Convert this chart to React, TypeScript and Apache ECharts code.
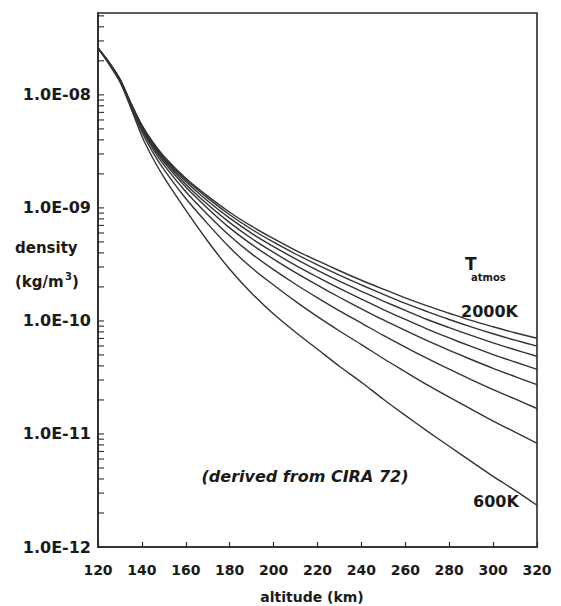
import React, { useEffect, useRef } from "react";
import * as echarts from "echarts";

// Altitude (km) sample positions
const altitudes = [120, 125, 130, 135, 140, 145, 150, 160, 170, 180, 190, 200, 210, 220, 230, 240, 250, 260, 270, 280, 290, 300, 310, 320];

// Density (kg/m^3) per exospheric temperature
const density2000K = [2.59e-8, 1.95e-8, 1.38e-8, 8.44e-9, 5.39e-9, 3.81e-9, 2.87e-9, 1.83e-9, 1.27e-9, 9.16e-10, 6.89e-10, 5.34e-10, 4.22e-10, 3.41e-10, 2.78e-10, 2.29e-10, 1.91e-10, 1.6e-10, 1.36e-10, 1.17e-10, 1.01e-10, 8.88e-11, 7.86e-11, 7.03e-11];
const density1800K = [2.59e-8, 1.94e-8, 1.37e-8, 8.41e-9, 5.34e-9, 3.75e-9, 2.81e-9, 1.78e-9, 1.22e-9, 8.69e-10, 6.47e-10, 4.97e-10, 3.91e-10, 3.13e-10, 2.54e-10, 2.08e-10, 1.72e-10, 1.43e-10, 1.21e-10, 1.03e-10, 8.86e-11, 7.7e-11, 6.76e-11, 5.99e-11];
const density1600K = [2.59e-8, 1.94e-8, 1.37e-8, 8.36e-9, 5.26e-9, 3.68e-9, 2.74e-9, 1.71e-9, 1.15e-9, 8.11e-10, 5.96e-10, 4.54e-10, 3.54e-10, 2.8e-10, 2.25e-10, 1.83e-10, 1.5e-10, 1.24e-10, 1.03e-10, 8.72e-11, 7.44e-11, 6.4e-11, 5.56e-11, 4.87e-11];
const density1400K = [2.59e-8, 1.93e-8, 1.36e-8, 8.29e-9, 5.18e-9, 3.59e-9, 2.65e-9, 1.62e-9, 1.07e-9, 7.41e-10, 5.36e-10, 4.04e-10, 3.1e-10, 2.44e-10, 1.94e-10, 1.56e-10, 1.26e-10, 1.03e-10, 8.48e-11, 7.07e-11, 5.95e-11, 5.04e-11, 4.33e-11, 3.73e-11];
const density1200K = [2.59e-8, 1.92e-8, 1.35e-8, 8.21e-9, 5.06e-9, 3.49e-9, 2.55e-9, 1.53e-9, 9.9e-10, 6.66e-10, 4.75e-10, 3.52e-10, 2.67e-10, 2.07e-10, 1.62e-10, 1.28e-10, 1.02e-10, 8.24e-11, 6.69e-11, 5.5e-11, 4.56e-11, 3.81e-11, 3.22e-11, 2.73e-11];
const density1000K = [2.59e-8, 1.92e-8, 1.34e-8, 8.09e-9, 4.91e-9, 3.33e-9, 2.4e-9, 1.39e-9, 8.71e-10, 5.67e-10, 3.92e-10, 2.84e-10, 2.11e-10, 1.6e-10, 1.23e-10, 9.58e-11, 7.44e-11, 5.86e-11, 4.66e-11, 3.74e-11, 3.03e-11, 2.47e-11, 2.04e-11, 1.68e-11];
const density800K = [2.59e-8, 1.9e-8, 1.32e-8, 7.91e-9, 4.69e-9, 3.1e-9, 2.19e-9, 1.21e-9, 7.22e-10, 4.46e-10, 2.95e-10, 2.08e-10, 1.49e-10, 1.09e-10, 8.15e-11, 6.18e-11, 4.65e-11, 3.55e-11, 2.72e-11, 2.12e-11, 1.66e-11, 1.3e-11, 1.04e-11, 8.24e-12];
const density600K = [2.59e-8, 1.87e-8, 1.3e-8, 7.62e-9, 4.31e-9, 2.75e-9, 1.87e-9, 9.54e-10, 5.07e-10, 2.87e-10, 1.76e-10, 1.15e-10, 7.94e-11, 5.62e-11, 3.97e-11, 2.87e-11, 2.03e-11, 1.46e-11, 1.06e-11, 7.78e-12, 5.73e-12, 4.22e-12, 3.17e-12, 2.34e-12];

const seriesNames = ["2000K", "1800K", "1600K", "1400K", "1200K", "1000K", "800K", "600K"];
const seriesValues = [density2000K, density1800K, density1600K, density1400K, density1200K, density1000K, density800K, density600K];

// Axis ticks
const xTicks = [120, 140, 160, 180, 200, 220, 240, 260, 280, 300, 320];
const yDecades = [1e-12, 1e-11, 1e-10, 1e-9, 1e-8];
const yMinorMultipliers = [2, 3, 4, 5, 6, 7, 8, 9];
const yMin = 1e-12;
const yMax = 5.3e-8;

const FONT = '"DejaVu Sans", Verdana, sans-serif';
const INK = "#2a2a2a";

export default function App() {
  const ref = useRef<HTMLDivElement>(null);

  useEffect(() => {
    if (!ref.current) return;
    const chart = echarts.init(ref.current, null, { renderer: "svg" });

    const tickValues: number[] = [];
    yDecades.forEach((d) => {
      tickValues.push(d);
      yMinorMultipliers.forEach((m) => {
        const v = d * m;
        if (v < yMax * 0.97) tickValues.push(v);
      });
    });

    const lineSeries = seriesValues.map((vals, i) => ({
      type: "line",
      name: seriesNames[i],
      data: altitudes.map((a, j) => [a, vals[j]]),
      showSymbol: false,
      smooth: 0.3,
      lineStyle: { color: "#333333", width: 1.4 },
      z: 3,
    }));

    const option: any = {
      animation: false,
      backgroundColor: "#ffffff",
      grid: {
        left: 98,
        right: 24,
        top: 13,
        bottom: 59,
        show: true,
        borderColor: INK,
        borderWidth: 1.6,
        backgroundColor: "transparent",
      },
      xAxis: {
        type: "value",
        min: xTicks[0],
        max: xTicks[xTicks.length - 1],
        interval: 20,
        axisLine: { show: true, lineStyle: { color: INK, width: 1.6 } },
        axisTick: { show: true, inside: true, length: 5, lineStyle: { color: INK, width: 1.2 } },
        splitLine: { show: false },
        axisLabel: {
          margin: 16,
          color: "#1a1a1a",
          fontFamily: FONT,
          fontWeight: "bold",
          fontSize: 14,
        },
      },
      yAxis: {
        type: "log",
        logBase: 10,
        min: yMin,
        max: yMax,
        axisLine: { show: true, lineStyle: { color: INK, width: 1.6 } },
        axisTick: { show: false },
        splitLine: { show: false },
        axisLabel: {
          margin: 7,
          color: "#1a1a1a",
          fontFamily: FONT,
          fontWeight: "bold",
          fontSize: 16,
          showMaxLabel: false,
          formatter: (v: number) => {
            const lg = Math.log10(v);
            const e = Math.round(lg);
            if (Math.abs(lg - e) > 1e-6) return "";
            return "1.0E-" + String(-e).padStart(2, "0");
          },
        },
      },
      series: [
        ...lineSeries,
        {
          type: "custom",
          name: "yTicks",
          data: tickValues.map((v) => [xTicks[0], v]),
          encode: { x: 0, y: 1 },
          silent: true,
          z: 2,
          renderItem: (params: any, api: any) => {
            const p = api.coord([api.value(0), api.value(1)]);
            return {
              type: "line",
              shape: { x1: p[0], y1: p[1], x2: p[0] + 6, y2: p[1] },
              style: { stroke: INK, lineWidth: 1.1 },
            };
          },
        },
      ],
      graphic: [
        {
          type: "text",
          x: 15,
          y: 248,
          style: { text: "density", fontFamily: FONT, fontWeight: "bold", fontSize: 15, fill: "#1a1a1a", align: "left", verticalAlign: "middle" },
        },
        {
          type: "text",
          x: 15,
          y: 282,
          style: { text: "(kg/m", fontFamily: FONT, fontWeight: "bold", fontSize: 15, fill: "#1a1a1a", align: "left", verticalAlign: "middle" },
        },
        {
          type: "text",
          x: 65,
          y: 276,
          style: { text: "3", fontFamily: FONT, fontWeight: "bold", fontSize: 10, fill: "#1a1a1a", align: "left", verticalAlign: "middle" },
        },
        {
          type: "text",
          x: 72,
          y: 282,
          style: { text: ")", fontFamily: FONT, fontWeight: "bold", fontSize: 15, fill: "#1a1a1a", align: "left", verticalAlign: "middle" },
        },
        {
          type: "text",
          x: 312,
          y: 597,
          style: { text: "altitude (km)", fontFamily: FONT, fontWeight: "bold", fontSize: 14, fill: "#1a1a1a", align: "center", verticalAlign: "middle" },
        },
        {
          type: "text",
          x: 465,
          y: 264,
          style: { text: "T", fontFamily: FONT, fontWeight: "bold", fontSize: 17, fill: "#1a1a1a", align: "left", verticalAlign: "middle" },
        },
        {
          type: "text",
          x: 471,
          y: 277,
          style: { text: "atmos", fontFamily: FONT, fontWeight: "bold", fontSize: 10, fill: "#1a1a1a", align: "left", verticalAlign: "middle" },
        },
        {
          type: "text",
          x: 461,
          y: 311,
          style: { text: "2000K", fontFamily: FONT, fontWeight: "bold", fontSize: 16, fill: "#1a1a1a", align: "left", verticalAlign: "middle" },
        },
        {
          type: "text",
          x: 473,
          y: 501,
          style: { text: "600K", fontFamily: FONT, fontWeight: "bold", fontSize: 16, fill: "#1a1a1a", align: "left", verticalAlign: "middle" },
        },
        {
          type: "text",
          x: 305,
          y: 476,
          style: { text: "(derived from CIRA 72)", fontFamily: FONT, fontWeight: "bold", fontStyle: "italic", fontSize: 16, fill: "#1a1a1a", align: "center", verticalAlign: "middle" },
        },
      ],
    };

    chart.setOption(option);
    return () => chart.dispose();
  }, []);

  return (
    <div
      ref={ref}
      style={{ position: "fixed", left: 0, top: 0, width: 561, height: 606, background: "#fff" }}
    />
  );
}
